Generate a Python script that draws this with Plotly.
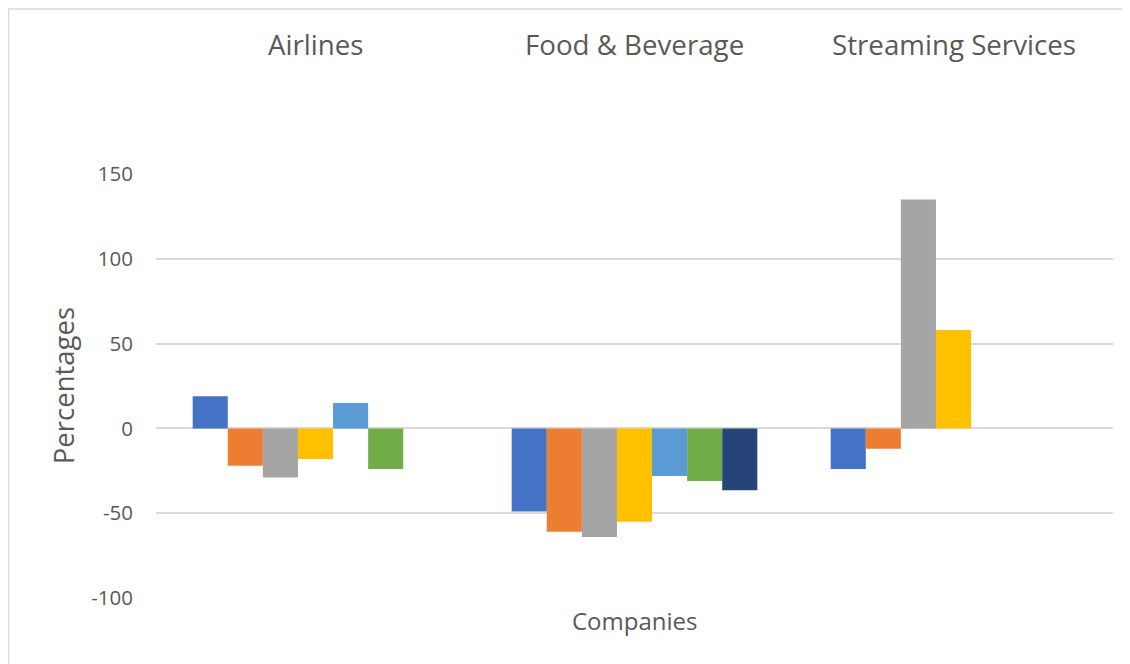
import plotly.graph_objects as go

categories = ["Airlines", "Food & Beverage", "Streaming Services"]
series_names = ["Series 1", "Series 2", "Series 3", "Series 4", "Series 5", "Series 6", "Series 7"]
s1 = [19, -49, -24]
s2 = [-22, -61, -12]
s3 = [-29, -64, 135]
s4 = [-18, -55, 58]
s5 = [15, -28, None]
s6 = [-24, -31, None]
s7 = [None, -36.5, None]
series_values = [s1, s2, s3, s4, s5, s6, s7]
colors = ["#4472C4", "#ED7D31", "#A5A5A5", "#FFC000", "#5B9BD5", "#70AD47", "#264478"]
y_ticks = [-100, -50, 0, 50, 100, 150]
y_tick_text = ["-100", "-50", "0", "50", "100", "150"]

fig = go.Figure()
for name, vals, c in zip(series_names, series_values, colors):
    fig.add_trace(go.Bar(x=categories, y=vals, name=name, marker=dict(color=c, line=dict(width=0))))

font_family = "Open Sans, sans-serif"
grey = "#595959"

for cat in categories:
    fig.add_annotation(x=cat, xref="x", y=1.306, yref="paper", text=cat, showarrow=False,
                       font=dict(family=font_family, size=27.7, color=grey), yanchor="middle")

fig.add_annotation(x=0.5, xref="paper", y=-0.054, yref="paper", text="Companies", showarrow=False,
                   font=dict(family=font_family, size=24, color=grey), yanchor="middle")
fig.add_annotation(x=-0.097, xref="paper", y=0.5, yref="paper", text="Percentages", showarrow=False,
                   textangle=-90, font=dict(family=font_family, size=27.5, color=grey), xanchor="center")

fig.add_shape(type="rect", xref="paper", yref="paper", x0=-0.1541, x1=1.05, y0=-0.25, y1=1.389,
              line=dict(color="#d9d9d9", width=1.5), fillcolor="rgba(0,0,0,0)", layer="below")

fig.update_layout(
    width=1130, height=664,
    margin=dict(l=148, r=25, t=166, b=74),
    paper_bgcolor="white", plot_bgcolor="white",
    barmode="group", bargap=0.23, bargroupgap=0,
    showlegend=False,
    font=dict(family=font_family, color=grey),
)
fig.update_xaxes(showticklabels=False, showgrid=False, zeroline=False, showline=False, ticks="")
fig.update_yaxes(range=[-100, 150], tickvals=y_ticks, ticktext=y_tick_text, showgrid=True,
                 gridcolor="#d9d9d9", gridwidth=1.5,
                 zeroline=True, zerolinecolor="#d9d9d9", zerolinewidth=1.5, showline=False,
                 tickfont=dict(family=font_family, size=20.5, color=grey), ticklabelstandoff=22)

fig.write_html("out.html")
